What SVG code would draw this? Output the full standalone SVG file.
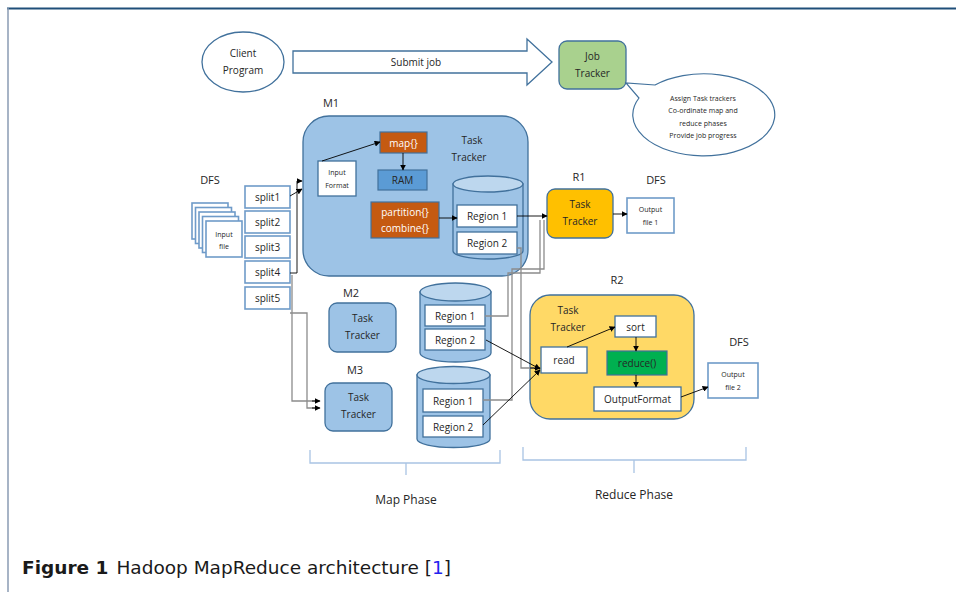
<svg xmlns="http://www.w3.org/2000/svg" width="956" height="592" viewBox="0 0 956 592">
  <defs>
    <marker id="arr" viewBox="0 0 10 10" refX="9" refY="5" markerWidth="6" markerHeight="6" orient="auto" markerUnits="userSpaceOnUse">
      <path d="M0,0 L10,5 L0,10 Z" fill="#000"/>
    </marker>
    <style>
      text { font-family: "Open Sans", "Liberation Sans", sans-serif; fill: #262626; text-anchor: middle; }
      .lbl { font-size: 11px; }
      .ph { font-size: 12px; }
      .sm { font-size: 10px; }
      .tiny { font-size: 7px; }
      .wt { fill: #ffffff; }
      .box { fill: #ffffff; stroke: #41719c; stroke-width: 1.3; }
      .split { fill: #ffffff; stroke: #6f9bc9; stroke-width: 1.6; }
      .tt { fill: #9dc3e6; stroke: #41719c; stroke-width: 1.3; }
      .cyl { fill: #9dc3e6; stroke: #41719c; stroke-width: 1.3; }
      .cyltop { fill: #bdd7ee; stroke: #41719c; stroke-width: 1.3; }
      .orange { fill: #c55a11; stroke: #41719c; stroke-width: 1.2; }
      .conn { fill: none; stroke: #000; stroke-width: 0.9; }
      .gconn { fill: none; stroke: #8c8c8c; stroke-width: 1.3; }
      .brace { fill: none; stroke: #a9c4e4; stroke-width: 1.3; }
    </style>
  </defs>

  <rect x="0" y="0" width="956" height="592" fill="#ffffff"/>

  <!-- page frame -->
  <line x1="7" y1="8.5" x2="956" y2="8.5" stroke="#1f4e79" stroke-width="2"/>
  <line x1="8" y1="8" x2="8" y2="592" stroke="#8a9bb3" stroke-width="1.5"/>

  <!-- client -->
  <g id="client">
    <ellipse cx="243" cy="62" rx="41" ry="30" fill="#ffffff" stroke="#41719c" stroke-width="1.3"/>
    <text class="sm" x="243" y="57">Client</text>
    <text class="sm" x="243" y="74">Program</text>
  </g>

  <!-- submit job block arrow -->
  <g id="submit">
    <polygon points="293,51 527,51 527,39 552,62 527,85 527,73 293,73" fill="#ffffff" stroke="#41719c" stroke-width="1.3"/>
    <text class="sm" x="416" y="66">Submit job</text>
  </g>

  <!-- job tracker and its callout -->
  <g id="jobtracker">
    <rect x="559" y="41" width="67" height="48" rx="8" fill="#a9d18e" stroke="#41719c" stroke-width="1.3"/>
    <text class="sm" x="592.5" y="60">Job</text>
    <text class="sm" x="592.5" y="77">Tracker</text>
  </g>
  <g id="callout">
    <path d="M655,85 A71,41 0 1 1 639,98 L626,83 Z" fill="#ffffff" stroke="#41719c" stroke-width="1.2"/>
    <text class="tiny" x="703" y="101">Assign Task trackers</text>
    <text class="tiny" x="703" y="113">Co-ordinate map and</text>
    <text class="tiny" x="703" y="126">reduce phases</text>
    <text class="tiny" x="703" y="138">Provide job progress</text>
  </g>

  <!-- DFS input -->
  <text class="lbl" x="210" y="184">DFS</text>
  <g id="inputfile">
    <rect x="192" y="203" width="36" height="36" class="split" stroke-width="1.3"/>
    <rect x="195.5" y="207.5" width="36" height="36" class="split" stroke-width="1.3"/>
    <rect x="199" y="212" width="36" height="36" class="split" stroke-width="1.3"/>
    <rect x="202.5" y="216.5" width="36" height="36" class="split" stroke-width="1.3"/>
    <rect x="206" y="221" width="36" height="36" class="split" stroke-width="1.3"/>
    <text class="tiny" x="224" y="237">Input</text>
    <text class="tiny" x="224" y="249">file</text>
  </g>

  <g id="splits">
    <rect class="split" x="245" y="186" width="45" height="22"/>
    <text class="sm" x="267.5" y="201">split1</text>
    <rect class="split" x="245" y="211" width="45" height="22"/>
    <text class="sm" x="267.5" y="226">split2</text>
    <rect class="split" x="245" y="236" width="45" height="22"/>
    <text class="sm" x="267.5" y="251">split3</text>
    <rect class="split" x="245" y="261" width="45" height="22"/>
    <text class="sm" x="267.5" y="276">split4</text>
    <rect class="split" x="245" y="287" width="45" height="22"/>
    <text class="sm" x="267.5" y="302">split5</text>
  </g>

  <!-- M1 -->
  <text class="lbl" x="331" y="107">M1</text>
  <g id="m1">
    <rect class="tt" x="303" y="116" width="225" height="160" rx="26"/>
    <text class="sm" x="472" y="144">Task</text>
    <text class="sm" x="469" y="161">Tracker</text>
    <rect class="box" x="318" y="161" width="38" height="35"/>
    <text class="tiny" x="337" y="175">Input</text>
    <text class="tiny" x="337" y="188">Format</text>
    <rect class="orange" x="380" y="132" width="47" height="21"/>
    <text class="sm wt" x="403.5" y="146.5">map{}</text>
    <rect x="378" y="170" width="49" height="20" fill="#5b9bd5" stroke="#41719c" stroke-width="1.2"/>
    <text class="sm" x="402.5" y="184">RAM</text>
    <rect class="orange" x="371" y="202" width="68" height="36"/>
    <text class="sm wt" x="405" y="216">partition{}</text>
    <text class="sm wt" x="405" y="232">combine{}</text>
    <path class="cyl" d="M453,184 L453,251 A35,8 0 0 0 523,251 L523,184 Z"/>
    <ellipse class="cyltop" cx="488" cy="184" rx="35" ry="8"/>
    <rect class="box" x="457" y="205" width="60" height="22"/>
    <text class="sm" x="487" y="220">Region 1</text>
    <rect class="box" x="457" y="232" width="60" height="22"/>
    <text class="sm" x="487" y="247">Region 2</text>
  </g>

  <!-- M2 -->
  <text class="lbl" x="351" y="297">M2</text>
  <g id="m2">
    <rect class="tt" x="329" y="303" width="67" height="49" rx="8"/>
    <text class="sm" x="362.5" y="322">Task</text>
    <text class="sm" x="362.5" y="339">Tracker</text>
  </g>
  <g id="m2store">
    <path class="cyl" d="M420,292 L420,353 A35.5,9 0 0 0 491,353 L491,292 Z"/>
    <ellipse class="cyltop" cx="455.5" cy="292" rx="35.5" ry="9"/>
    <rect class="box" x="425" y="305" width="60" height="21"/>
    <text class="sm" x="455" y="319.5">Region 1</text>
    <rect class="box" x="425" y="329" width="60" height="21"/>
    <text class="sm" x="455" y="343.5">Region 2</text>
  </g>

  <!-- M3 -->
  <text class="lbl" x="355" y="374">M3</text>
  <g id="m3">
    <rect class="tt" x="325" y="383" width="67" height="48" rx="8"/>
    <text class="sm" x="358.5" y="401">Task</text>
    <text class="sm" x="358.5" y="418">Tracker</text>
  </g>
  <g id="m3store">
    <path class="cyl" d="M417,375 L417,439 A36.5,8.5 0 0 0 490,439 L490,375 Z"/>
    <ellipse class="cyltop" cx="453.5" cy="375" rx="36.5" ry="8.5"/>
    <rect class="box" x="423" y="389" width="60" height="23"/>
    <text class="sm" x="453" y="404.5">Region 1</text>
    <rect class="box" x="423" y="416" width="60" height="21"/>
    <text class="sm" x="453" y="430.5">Region 2</text>
  </g>

  <!-- R1 -->
  <text class="lbl" x="579" y="181">R1</text>
  <g id="r1">
    <rect x="547" y="189" width="66" height="49" rx="8" fill="#ffc000" stroke="#41719c" stroke-width="1.3"/>
    <text class="sm" x="580" y="208">Task</text>
    <text class="sm" x="580" y="225">Tracker</text>
  </g>
  <text class="lbl" x="656" y="184">DFS</text>
  <g id="out1">
    <rect class="split" x="627" y="198" width="47" height="35" stroke-width="1.3"/>
    <text class="tiny" x="650.5" y="212">Output</text>
    <text class="tiny" x="650.5" y="225">file 1</text>
  </g>

  <!-- R2 -->
  <text class="lbl" x="617" y="284">R2</text>
  <g id="r2">
    <rect x="530" y="295" width="164" height="124" rx="20" fill="#ffd966" stroke="#41719c" stroke-width="1.3"/>
    <text class="sm" x="568" y="314">Task</text>
    <text class="sm" x="568" y="331">Tracker</text>
    <rect class="box" x="615" y="316" width="41" height="21"/>
    <text class="sm" x="635.5" y="330.5">sort</text>
    <rect class="box" x="541" y="347" width="46" height="26"/>
    <text class="sm" x="564" y="364">read</text>
    <rect x="607" y="351" width="60" height="24" fill="#00b050" stroke="#41719c" stroke-width="1.2"/>
    <text class="sm" x="637" y="367">reduce()</text>
    <rect class="box" x="594" y="387" width="87" height="24"/>
    <text class="sm" x="637.5" y="403">OutputFormat</text>
  </g>
  <text class="lbl" x="739" y="346">DFS</text>
  <g id="out2">
    <rect class="split" x="708" y="363" width="50" height="35" stroke-width="1.3"/>
    <text class="tiny" x="733" y="377">Output</text>
    <text class="tiny" x="733" y="390">file 2</text>
  </g>

  <!-- phase braces -->
  <g id="mapphase">
    <path class="brace" d="M310,450 L310,463 L500,463 L500,450 M406,463 L406,475"/>
    <text class="ph" x="406" y="504">Map Phase</text>
  </g>
  <g id="reducephase">
    <path class="brace" d="M523,447 L523,460 L746,460 L746,447 M634,460 L634,473"/>
    <text class="ph" x="634" y="499">Reduce Phase</text>
  </g>

  <!-- connectors -->
  <g id="connectors">
    <!-- splits to map tasks -->
    <path class="conn" d="M290,196 L302,189" marker-end="url(#arr)"/>
    <path class="conn" d="M290,273 L297,273 L297,181 L302,181" marker-end="url(#arr)"/>
    <path class="gconn" d="M292,275 L292,401 L318,401"/>
    <path class="conn" d="M312,401 L320,401" marker-end="url(#arr)"/>
    <path class="gconn" d="M290,313 L307,313 L307,408 L318,408"/>
    <path class="conn" d="M312,408 L320,408" marker-end="url(#arr)"/>

    <!-- inside M1 -->
    <path class="conn" d="M322,161 L380,142" marker-end="url(#arr)"/>
    <path class="conn" d="M403,153 L403,170" marker-end="url(#arr)"/>
    <path class="conn" d="M439,218 L457,218" marker-end="url(#arr)"/>

    <!-- region 1 partitions to R1 -->
    <path class="conn" d="M517,216 L547,216" marker-end="url(#arr)"/>
    <path class="gconn" d="M485,316 L508,316 L508,273 L540,273 L540,220"/>
    <path class="gconn" d="M483,400 L512,400 L512,269 L544,269 L544,220"/>

    <!-- region 2 partitions to R2 -->
    <path class="gconn" d="M517,248 L521,248 L521,368 L534,368"/>
    <path class="conn" d="M530,368 L540,368" marker-end="url(#arr)"/>
    <path class="conn" d="M486,340 L540,369" marker-end="url(#arr)"/>
    <path class="conn" d="M483,425 L540,370" marker-end="url(#arr)"/>

    <!-- inside R2 -->
    <path class="conn" d="M567,347 L615,327" marker-end="url(#arr)"/>
    <path class="conn" d="M636,337 L636,351" marker-end="url(#arr)"/>
    <path class="conn" d="M636,375 L636,387" marker-end="url(#arr)"/>
    <path class="conn" d="M681,397 L708,387" marker-end="url(#arr)"/>

    <!-- R1 to output -->
    <path class="conn" d="M613,214 L627,214" marker-end="url(#arr)"/>
  </g>

  <!-- caption -->
  <text x="22" y="574" style="text-anchor:start; font-family:'DejaVu Sans','Liberation Sans',sans-serif; font-size:18.5px; fill:#1a1a1a"><tspan font-weight="bold">Figure 1</tspan><tspan dx="8">Hadoop MapReduce architecture [</tspan><tspan style="fill:#2222ee">1</tspan><tspan>]</tspan></text>
</svg>
